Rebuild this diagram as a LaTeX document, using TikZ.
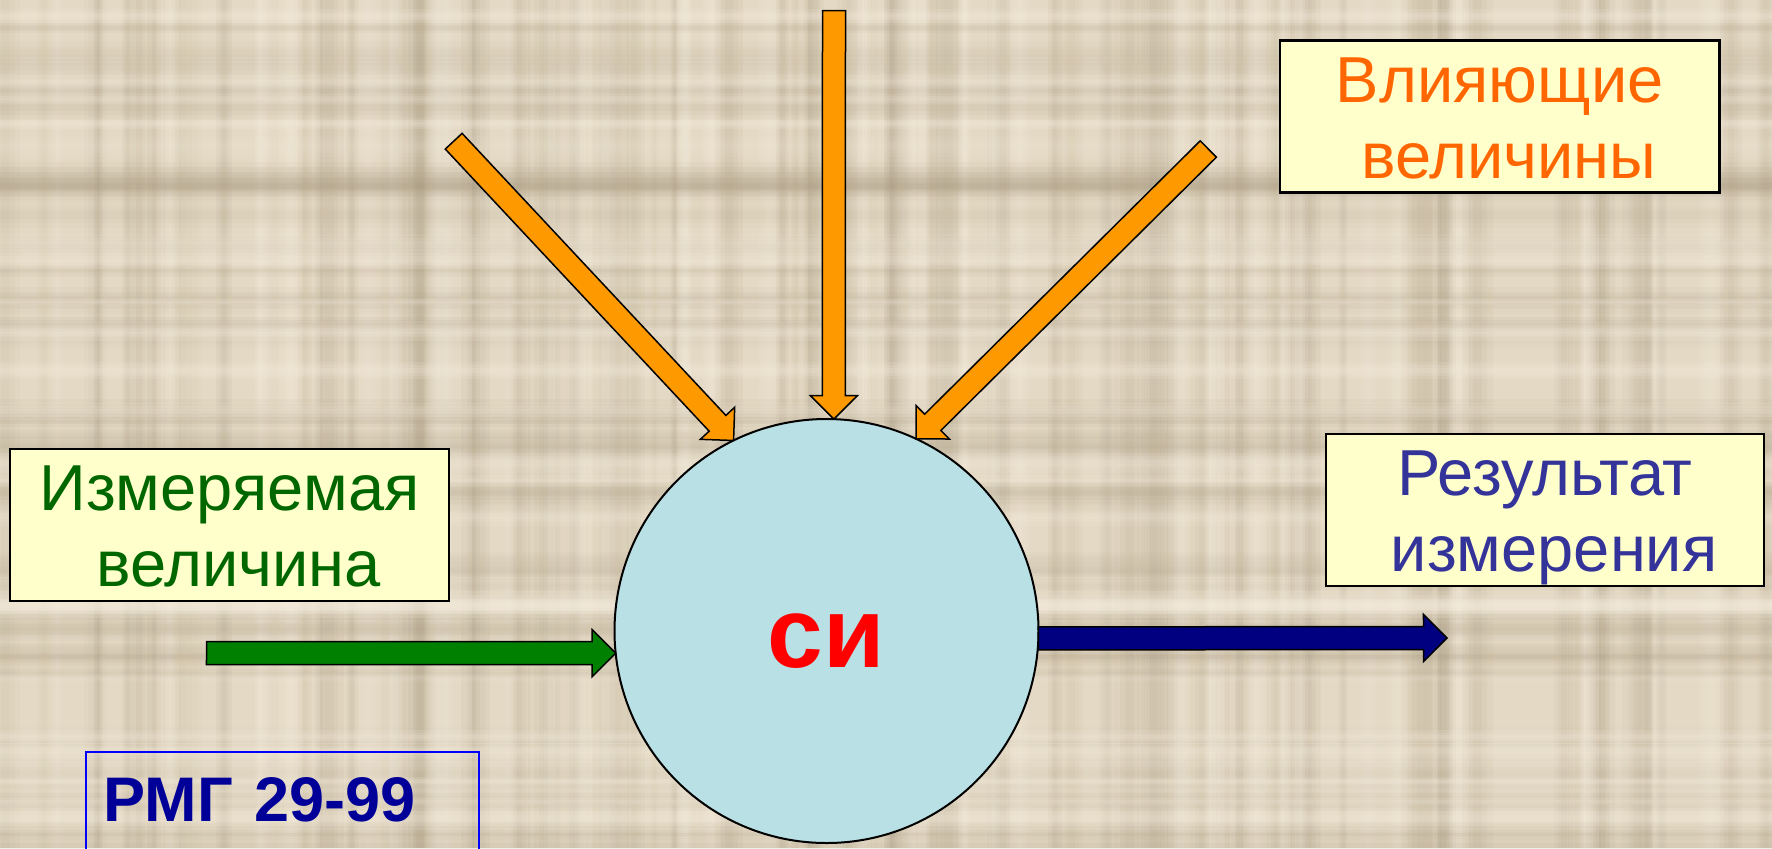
\documentclass[tikz,border=0pt]{standalone}
\usepackage{fontspec}
\setmainfont{Liberation Sans}
\usetikzlibrary{calc}

\definecolor{paper}{RGB}{228,217,196}
\definecolor{paperdark}{RGB}{160,145,118}
\definecolor{paperlight}{RGB}{248,240,225}
\definecolor{notefill}{RGB}{255,255,204}
\definecolor{measgreen}{RGB}{0,102,0}
\definecolor{inflorange}{RGB}{255,102,0}
\definecolor{resblue}{RGB}{51,51,153}
\definecolor{arroworange}{RGB}{255,153,0}
\definecolor{arrowgreen}{RGB}{0,128,0}
\definecolor{arrownavy}{RGB}{0,0,128}
\definecolor{sifill}{RGB}{185,224,228}
\definecolor{gostblue}{RGB}{0,0,153}
\definecolor{gostframe}{RGB}{0,0,255}

% fixed line strut: every label line is 38pt tall
\newcommand\lstrut{\rule[-7.25pt]{0pt}{38pt}}

% block arrow with outline: \blockarrow{fill colour}{(from)}{(to)}
\newcommand\blockarrow[3]{%
  \draw[blockarrow, fill=#1] let \p1=#2, \p2=#3,
     \n1={atan2(\y2-\y1,\x2-\x1)}, \n2={veclen(\x2-\x1,\y2-\y1)} in
     [shift={(\p1)}, rotate=\n1]
     (0pt,-5.75pt) -- (\n2-11.75pt,-5.75pt) -- (\n2-11.75pt,-11.75pt) -- (\n2,0pt)
     -- (\n2-11.75pt,11.75pt) -- (\n2-11.75pt,5.75pt) -- (0pt,5.75pt) -- cycle;
}

% soft stripes of the canvas texture, built from three stacked bands
% \vstripe{colour}{x centre}{width}{opacity}, \hstripe likewise for y
\newcommand\vstripe[4]{%
  \foreach \k in {1,0.62,0.3}{%
    \fill[#1, opacity=#4] (#2-#3*\k/2,0) rectangle (#2+#3*\k/2,848);}}
\newcommand\hstripe[4]{%
  \foreach \k in {1,0.62,0.3}{%
    \fill[#1, opacity=#4] (0,#2-#3*\k/2) rectangle (1772,#2+#3*\k/2);}}

\begin{document}
\begin{tikzpicture}[x=0.5pt,y=-0.5pt,
  blockarrow/.style={draw=black, line width=0.75pt, line join=miter},
  notebox/.style={draw=black, line width=1.2pt, fill=notefill, inner sep=0pt,
    outer sep=0pt, align=center, minimum height=76pt,
    font=\fontsize{32.5}{38}\selectfont},
]
\useasboundingbox (0,0) rectangle (1772,848);
\clip (0,0) rectangle (1772,848);

% canvas-like paper background
\fill[paper] (0,0) rectangle (1772,848);
\pgfmathsetseed{4711}
\foreach \i in {1,...,80}{
  \pgfmathsetmacro\sxa{1772*rnd}
  \pgfmathsetmacro\swa{8+24*rnd}
  \pgfmathsetmacro\soa{0.025+0.05*rnd}
  \vstripe{paperdark}{\sxa}{\swa}{\soa}
}
\foreach \i in {1,...,40}{
  \pgfmathsetmacro\sxa{1772*rnd}
  \pgfmathsetmacro\swa{8+16*rnd}
  \pgfmathsetmacro\soa{0.06+0.10*rnd}
  \vstripe{paperlight}{\sxa}{\swa}{\soa}
}
\foreach \i in {1,...,50}{
  \pgfmathsetmacro\sxa{848*rnd}
  \pgfmathsetmacro\swa{8+22*rnd}
  \pgfmathsetmacro\soa{0.02+0.04*rnd}
  \hstripe{paperdark}{\sxa}{\swa}{\soa}
}
\foreach \i in {1,...,25}{
  \pgfmathsetmacro\sxa{848*rnd}
  \pgfmathsetmacro\swa{8+16*rnd}
  \pgfmathsetmacro\soa{0.06+0.10*rnd}
  \hstripe{paperlight}{\sxa}{\swa}{\soa}
}

% measuring instrument
\node[circle, draw=black, line width=1pt, fill=sifill, minimum size=212pt,
      inner sep=0pt, outer sep=0pt, text=red,
      font=\fontsize{50}{60}\selectfont\bfseries,
      text height=36pt, text depth=0pt] (si) at (826.5,631) {си};

% labels
\node[notebox, text=measgreen, minimum width=219.5pt] (meas) at (229.5,525.2)
  {\lstrut Измеряемая\\\hspace*{.28em}\lstrut величина};
\node[notebox, text=inflorange, minimum width=219.6pt] (infl) at (1499.7,116.5)
  {\lstrut Влияющие\\\hspace*{.28em}\lstrut величины};
\node[notebox, text=resblue, minimum width=219pt] (res) at (1545,510.2)
  {\lstrut Результат\\\hspace*{.28em}\lstrut измерения};

\node[anchor=north west, draw=gostframe, line width=1pt, outer sep=0pt,
      inner xsep=9pt, inner ysep=11.65pt, text width=178.8pt, align=left,
      text height=23.3pt, text depth=40pt, text=gostblue,
      font=\fontsize{31.5}{38}\selectfont\bfseries] (rmg) at (85.7,751.7)
  {РМГ 29-99};

% free ends of the arrows
\coordinate (o1) at (453.7,141.2);
\coordinate (o2) at (834,10.7);
\coordinate (o3) at (1208.3,149);
\coordinate (gin) at (206.5,653);
\coordinate (bout) at (1447,638);

% influencing quantities
\blockarrow{arroworange}{(o1)}{(si.116)}
\blockarrow{arroworange}{(o2)}{(si.88)}
\blockarrow{arroworange}{(o3)}{(si.65)}
% measured quantity in, result out
\blockarrow{arrowgreen}{(gin)}{(si.186)}
\blockarrow{arrownavy}{(si.-2)}{(bout)}
\end{tikzpicture}
\end{document}
